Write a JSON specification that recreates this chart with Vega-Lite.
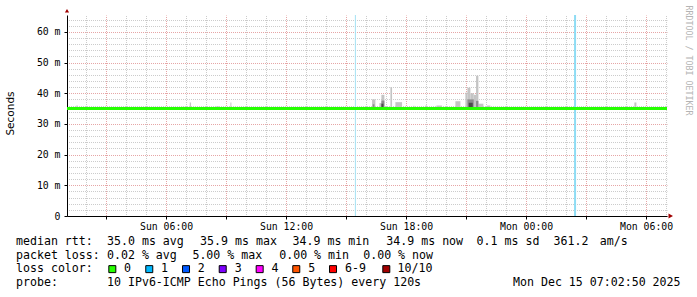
{
  "$schema": "https://vega.github.io/schema/vega-lite/v6.json",
  "width": 600,
  "height": 201,
  "autosize": "none",
  "padding": {"left": 67, "top": 15, "right": 30, "bottom": 81},
  "background": "white",
  "config": {"view": {"stroke": null}},
  "datasets": {
    "smoke": [
      {"t": "2025-12-14T01:31:00", "t2": "2025-12-14T01:35:00", "lo": 35, "hi": 36.0, "shade": "light"},
      {"t": "2025-12-14T06:49:00", "t2": "2025-12-14T06:55:00", "lo": 35, "hi": 35.6, "shade": "light"},
      {"t": "2025-12-14T07:11:00", "t2": "2025-12-14T07:15:00", "lo": 35, "hi": 37.0, "shade": "light"},
      {"t": "2025-12-14T08:31:00", "t2": "2025-12-14T08:38:00", "lo": 35, "hi": 35.8, "shade": "light"},
      {"t": "2025-12-14T09:13:00", "t2": "2025-12-14T09:16:00", "lo": 35, "hi": 37.0, "shade": "light"},
      {"t": "2025-12-14T16:18:00", "t2": "2025-12-14T16:28:00", "lo": 35, "hi": 38.0, "shade": "light"},
      {"t": "2025-12-14T16:40:00", "t2": "2025-12-14T16:46:00", "lo": 35, "hi": 36.8, "shade": "light"},
      {"t": "2025-12-14T16:46:00", "t2": "2025-12-14T16:55:00", "lo": 35, "hi": 39.5, "shade": "light"},
      {"t": "2025-12-14T17:13:00", "t2": "2025-12-14T17:18:00", "lo": 35, "hi": 42.0, "shade": "light"},
      {"t": "2025-12-14T17:28:00", "t2": "2025-12-14T17:48:00", "lo": 35, "hi": 37.1, "shade": "light"},
      {"t": "2025-12-14T18:22:00", "t2": "2025-12-14T18:25:00", "lo": 35, "hi": 35.9, "shade": "light"},
      {"t": "2025-12-14T18:58:00", "t2": "2025-12-14T19:03:00", "lo": 35, "hi": 36.0, "shade": "light"},
      {"t": "2025-12-14T19:31:00", "t2": "2025-12-14T19:48:00", "lo": 35, "hi": 36.0, "shade": "light"},
      {"t": "2025-12-14T20:28:00", "t2": "2025-12-14T20:43:00", "lo": 35, "hi": 37.4, "shade": "light"},
      {"t": "2025-12-14T20:58:00", "t2": "2025-12-14T21:04:00", "lo": 35, "hi": 40.2, "shade": "light"},
      {"t": "2025-12-14T21:04:00", "t2": "2025-12-14T21:13:00", "lo": 35, "hi": 41.8, "shade": "light"},
      {"t": "2025-12-14T21:13:00", "t2": "2025-12-14T21:23:00", "lo": 35, "hi": 40.0, "shade": "light"},
      {"t": "2025-12-14T21:23:00", "t2": "2025-12-14T21:30:00", "lo": 35, "hi": 39.5, "shade": "light"},
      {"t": "2025-12-14T21:30:00", "t2": "2025-12-14T21:37:00", "lo": 35, "hi": 45.7, "shade": "light"},
      {"t": "2025-12-14T21:37:00", "t2": "2025-12-14T21:52:00", "lo": 35, "hi": 36.6, "shade": "light"},
      {"t": "2025-12-14T22:03:00", "t2": "2025-12-14T22:13:00", "lo": 35, "hi": 36.0, "shade": "light"},
      {"t": "2025-12-14T23:03:00", "t2": "2025-12-14T23:18:00", "lo": 35, "hi": 35.5, "shade": "light"},
      {"t": "2025-12-15T05:25:00", "t2": "2025-12-15T05:31:00", "lo": 35, "hi": 37.0, "shade": "light"},
      {"t": "2025-12-14T16:20:00", "t2": "2025-12-14T16:25:00", "lo": 35, "hi": 36.4, "shade": "mid"},
      {"t": "2025-12-14T16:46:00", "t2": "2025-12-14T16:55:00", "lo": 35, "hi": 37.6, "shade": "mid"},
      {"t": "2025-12-14T21:04:00", "t2": "2025-12-14T21:23:00", "lo": 35, "hi": 38.0, "shade": "mid"},
      {"t": "2025-12-14T21:30:00", "t2": "2025-12-14T21:37:00", "lo": 35, "hi": 37.5, "shade": "mid"},
      {"t": "2025-12-14T16:46:00", "t2": "2025-12-14T16:52:00", "lo": 35, "hi": 36.6, "shade": "dark"},
      {"t": "2025-12-14T21:08:00", "t2": "2025-12-14T21:20:00", "lo": 35, "hi": 36.9, "shade": "dark"}
    ],
    "median": [
      {"t": "2025-12-14T01:02:50", "rtt": 35.0},
      {"t": "2025-12-14T04:00:00", "rtt": 35.0},
      {"t": "2025-12-14T07:00:00", "rtt": 35.0},
      {"t": "2025-12-14T10:00:00", "rtt": 35.0},
      {"t": "2025-12-14T13:00:00", "rtt": 35.0},
      {"t": "2025-12-14T16:00:00", "rtt": 35.0},
      {"t": "2025-12-14T19:00:00", "rtt": 35.0},
      {"t": "2025-12-14T22:00:00", "rtt": 35.0},
      {"t": "2025-12-15T01:00:00", "rtt": 35.0},
      {"t": "2025-12-15T04:00:00", "rtt": 35.0},
      {"t": "2025-12-15T07:02:50", "rtt": 35.0}
    ],
    "events": [
      {"t": "2025-12-14T15:28:00", "kind": "a"},
      {"t": "2025-12-15T02:27:00", "kind": "b"}
    ],
    "ends": [
      {"axis": "x", "t": "2025-12-15T07:02:50", "v": 0},
      {"axis": "y", "t": "2025-12-14T01:02:50", "v": 65.5}
    ],
    "legendText": [
      {"line": 1, "col": 0, "text": "median rtt:"},
      {"line": 1, "col": 13, "text": "35.0 ms avg"},
      {"line": 1, "col": 26.3, "text": "35.9 ms max"},
      {"line": 1, "col": 39.5, "text": "34.9 ms min"},
      {"line": 1, "col": 52.9, "text": "34.9 ms now"},
      {"line": 1, "col": 65.8, "text": "0.1 ms sd"},
      {"line": 1, "col": 76.8, "text": "361.2"},
      {"line": 1, "col": 83.4, "text": "am/s"},
      {"line": 2, "col": 0, "text": "packet loss:"},
      {"line": 2, "col": 13, "text": "0.02 % avg"},
      {"line": 2, "col": 25.2, "text": "5.00 % max"},
      {"line": 2, "col": 37.6, "text": "0.00 % min"},
      {"line": 2, "col": 49.6, "text": "0.00 % now"},
      {"line": 3, "col": 0, "text": "loss color:"},
      {"line": 3, "col": 15.43, "text": "0"},
      {"line": 3, "col": 20.71, "text": "1"},
      {"line": 3, "col": 25.96, "text": "2"},
      {"line": 3, "col": 31.25, "text": "3"},
      {"line": 3, "col": 36.5, "text": "4"},
      {"line": 3, "col": 41.75, "text": "5"},
      {"line": 3, "col": 47.0, "text": "6-9"},
      {"line": 3, "col": 54.5, "text": "10/10"},
      {"line": 4, "col": 0, "text": "probe:"},
      {"line": 4, "col": 13, "text": "10 IPv6-ICMP Echo Pings (56 Bytes) every 120s"},
      {"line": 4, "col": 71, "text": "Mon Dec 15 07:02:50 2025"}
    ],
    "lossColors": [
      {"loss": "0", "line": 3, "col": 13.76},
      {"loss": "1", "line": 3, "col": 19.04},
      {"loss": "2", "line": 3, "col": 24.29},
      {"loss": "3", "line": 3, "col": 29.53},
      {"loss": "4", "line": 3, "col": 34.81},
      {"loss": "5", "line": 3, "col": 40.04},
      {"loss": "6-9", "line": 3, "col": 45.29},
      {"loss": "10/10", "line": 3, "col": 52.9}
    ]
  },
  "resolve": {"scale": {"x": "independent", "y": "independent", "color": "independent"}},
  "layer": [
    {
      "data": {"name": "smoke"},
      "mark": {"type": "rect"},
      "encoding": {
        "x": {
          "field": "t", "type": "temporal",
          "scale": {"domain": [{"year": 2025, "month": 12, "date": 14, "hours": 1, "minutes": 2, "seconds": 50}, {"year": 2025, "month": 12, "date": 15, "hours": 7, "minutes": 2, "seconds": 50}], "nice": false},
          "axis": {
            "orient": "top", "title": null, "labels": false, "ticks": false, "domain": false,
            "grid": true, "gridColor": "#cccccc", "gridDash": [1, 1], "gridDashOffset": 0.5, "gridWidth": 1,
            "values": [
              {"year": 2025, "month": 12, "date": 14, "hours": 2},
              {"year": 2025, "month": 12, "date": 14, "hours": 4},
              {"year": 2025, "month": 12, "date": 14, "hours": 5},
              {"year": 2025, "month": 12, "date": 14, "hours": 7},
              {"year": 2025, "month": 12, "date": 14, "hours": 8},
              {"year": 2025, "month": 12, "date": 14, "hours": 10},
              {"year": 2025, "month": 12, "date": 14, "hours": 11},
              {"year": 2025, "month": 12, "date": 14, "hours": 13},
              {"year": 2025, "month": 12, "date": 14, "hours": 14},
              {"year": 2025, "month": 12, "date": 14, "hours": 16},
              {"year": 2025, "month": 12, "date": 14, "hours": 17},
              {"year": 2025, "month": 12, "date": 14, "hours": 19},
              {"year": 2025, "month": 12, "date": 14, "hours": 20},
              {"year": 2025, "month": 12, "date": 14, "hours": 22},
              {"year": 2025, "month": 12, "date": 14, "hours": 23},
              {"year": 2025, "month": 12, "date": 15, "hours": 1},
              {"year": 2025, "month": 12, "date": 15, "hours": 2},
              {"year": 2025, "month": 12, "date": 15, "hours": 4},
              {"year": 2025, "month": 12, "date": 15, "hours": 5},
              {"year": 2025, "month": 12, "date": 15, "hours": 7}
            ]
          }
        },
        "x2": {"field": "t2"},
        "y": {
          "field": "lo", "type": "quantitative",
          "scale": {"domain": [0, 65.5], "nice": false, "zero": false},
          "axis": {
            "orient": "right", "labels": false, "ticks": false, "domain": false,
            "grid": true, "gridColor": "#cccccc", "gridDash": [1, 1], "gridDashOffset": 0.5, "gridWidth": 1,
            "values": [2, 4, 6, 8, 12, 14, 16, 18, 22, 24, 26, 28, 32, 34, 36, 38, 42, 44, 46, 48, 52, 54, 56, 58, 62, 64],
            "title": "RRDTOOL / TOBI OETIKER", "titleAngle": 90, "titleX": 20.5, "titleY": 45,
            "titleAlign": "center", "titleBaseline": "middle",
            "titleFont": "DejaVu Sans Mono", "titleFontSize": 8.3, "titleFontWeight": "normal", "titleColor": "#b4b4b4"
          }
        },
        "y2": {"field": "hi"},
        "color": {"field": "shade", "type": "nominal", "scale": {"domain": ["light", "mid", "dark"], "range": ["#c4c4c4", "#8c8c8c", "#4c4c4c"]}, "legend": null}
      }
    },
    {
      "data": {"name": "events"},
      "transform": [{"filter": "datum.kind == 'a'"}],
      "mark": {"type": "rule", "color": "#a4e2f4", "strokeWidth": 1},
      "encoding": {
        "x": {"field": "t", "type": "temporal", "axis": null,
          "scale": {"domain": [{"year": 2025, "month": 12, "date": 14, "hours": 1, "minutes": 2, "seconds": 50}, {"year": 2025, "month": 12, "date": 15, "hours": 7, "minutes": 2, "seconds": 50}], "nice": false}}
      }
    },
    {
      "data": {"name": "events"},
      "transform": [{"filter": "datum.kind == 'b'"}],
      "mark": {"type": "rule", "color": "#8edcf4", "strokeWidth": 2},
      "encoding": {
        "x": {"field": "t", "type": "temporal", "axis": null,
          "scale": {"domain": [{"year": 2025, "month": 12, "date": 14, "hours": 1, "minutes": 2, "seconds": 50}, {"year": 2025, "month": 12, "date": 15, "hours": 7, "minutes": 2, "seconds": 50}], "nice": false}}
      }
    },
    {
      "data": {"name": "median"},
      "mark": {"type": "line", "color": "#26ff00", "strokeWidth": 3},
      "encoding": {
        "x": {
          "field": "t", "type": "temporal",
          "scale": {"domain": [{"year": 2025, "month": 12, "date": 14, "hours": 1, "minutes": 2, "seconds": 50}, {"year": 2025, "month": 12, "date": 15, "hours": 7, "minutes": 2, "seconds": 50}], "nice": false},
          "axis": {
            "orient": "bottom", "title": null,
            "grid": true, "gridColor": "#e6a6a6", "gridDash": [1, 1], "gridDashOffset": 0.5, "gridWidth": 1,
            "domainColor": "#000000", "tickColor": "#000000", "tickSize": 3,
            "labelFont": "DejaVu Sans Mono", "labelFontSize": 9.8, "labelColor": "#000000", "labelPadding": 2,
            "labelFlush": false, "labelOverlap": false,
            "labelExpr": "hours(datum.value) % 6 == 0 ? timeFormat(datum.value, '%a %H:%M') : ''",
            "values": [
              {"year": 2025, "month": 12, "date": 14, "hours": 3},
              {"year": 2025, "month": 12, "date": 14, "hours": 6},
              {"year": 2025, "month": 12, "date": 14, "hours": 9},
              {"year": 2025, "month": 12, "date": 14, "hours": 12},
              {"year": 2025, "month": 12, "date": 14, "hours": 15},
              {"year": 2025, "month": 12, "date": 14, "hours": 18},
              {"year": 2025, "month": 12, "date": 14, "hours": 21},
              {"year": 2025, "month": 12, "date": 15, "hours": 0},
              {"year": 2025, "month": 12, "date": 15, "hours": 3},
              {"year": 2025, "month": 12, "date": 15, "hours": 6}
            ]
          }
        },
        "y": {
          "field": "rtt", "type": "quantitative",
          "scale": {"domain": [0, 65.5], "nice": false, "zero": false},
          "axis": {
            "orient": "left",
            "values": [0, 10, 20, 30, 40, 50, 60],
            "grid": true, "gridColor": "#e6a6a6", "gridDash": [1, 1], "gridDashOffset": 0.5, "gridWidth": 1,
            "domainColor": "#000000", "tickColor": "#000000", "tickSize": 3,
            "labelFont": "DejaVu Sans Mono", "labelFontSize": 9.8, "labelColor": "#000000", "labelPadding": 4,
            "labelExpr": "datum.value == 0 ? '0' : datum.value + ' m'",
            "title": "Seconds", "titleAngle": -90, "titleX": -57, "titleY": 98,
            "titleAlign": "center", "titleBaseline": "middle",
            "titleFont": "DejaVu Sans", "titleFontSize": 10.5, "titleFontWeight": "normal", "titleColor": "#000000"
          }
        }
      }
    },
    {
      "data": {"name": "ends"},
      "transform": [{"filter": "datum.axis == 'x'"}],
      "mark": {"type": "point", "shape": "M0.5,-0.85L2,0L0.5,0.85Z", "filled": true, "color": "#a00000", "opacity": 1, "size": 36},
      "encoding": {
        "x": {"field": "t", "type": "temporal", "axis": null,
          "scale": {"domain": [{"year": 2025, "month": 12, "date": 14, "hours": 1, "minutes": 2, "seconds": 50}, {"year": 2025, "month": 12, "date": 15, "hours": 7, "minutes": 2, "seconds": 50}], "nice": false}},
        "y": {"field": "v", "type": "quantitative", "axis": null, "scale": {"domain": [0, 65.5], "nice": false, "zero": false}}
      }
    },
    {
      "data": {"name": "ends"},
      "transform": [{"filter": "datum.axis == 'y'"}],
      "mark": {"type": "point", "shape": "M-0.7,-0.8L0,-2L0.7,-0.8Z", "filled": true, "color": "#a00000", "opacity": 1, "size": 36},
      "encoding": {
        "x": {"field": "t", "type": "temporal", "axis": null,
          "scale": {"domain": [{"year": 2025, "month": 12, "date": 14, "hours": 1, "minutes": 2, "seconds": 50}, {"year": 2025, "month": 12, "date": 15, "hours": 7, "minutes": 2, "seconds": 50}], "nice": false}},
        "y": {"field": "v", "type": "quantitative", "axis": null, "scale": {"domain": [0, 65.5], "nice": false, "zero": false}}
      }
    },
    {
      "data": {"name": "legendText"},
      "mark": {"type": "text", "font": "DejaVu Sans Mono", "fontSize": 11.6, "align": "left", "baseline": "middle", "color": "#000000"},
      "encoding": {
        "x": {"field": "col", "type": "quantitative", "axis": null, "scale": {"domain": [0, 100], "range": [-51, 649], "nice": false, "zero": false}},
        "y": {"field": "line", "type": "quantitative", "axis": null, "scale": {"domain": [1, 4], "range": [227, 267.7], "nice": false, "zero": false}},
        "text": {"field": "text"}
      }
    },
    {
      "data": {"name": "lossColors"},
      "mark": {"type": "square", "size": 49, "filled": true, "opacity": 1, "stroke": "#000000", "strokeWidth": 1},
      "encoding": {
        "x": {"field": "col", "type": "quantitative", "axis": null, "scale": {"domain": [0, 100], "range": [-51, 649], "nice": false, "zero": false}},
        "y": {"field": "line", "type": "quantitative", "axis": null, "scale": {"domain": [1, 4], "range": [227, 267.7], "nice": false, "zero": false}},
        "color": {"field": "loss", "type": "nominal", "legend": null,
          "scale": {"domain": ["0", "1", "2", "3", "4", "5", "6-9", "10/10"], "range": ["#26ff00", "#00b8ff", "#0059ff", "#7e00ff", "#ff00ff", "#ff5500", "#ff0000", "#a10000"]}}
      }
    }
  ]
}
